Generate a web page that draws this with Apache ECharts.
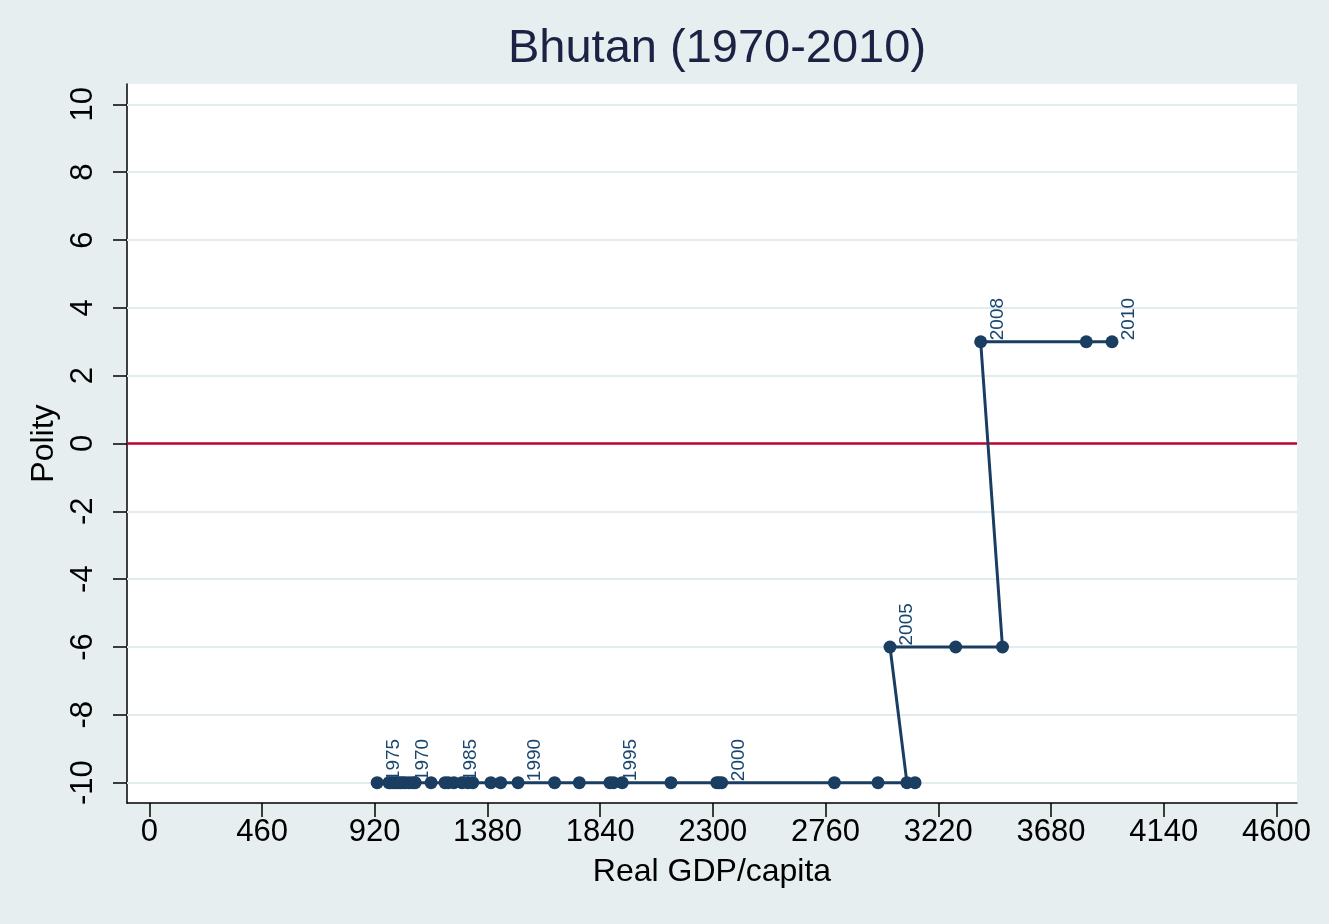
<!DOCTYPE html>
<html>
<head>
<meta charset="utf-8">
<script src="https://cdn.jsdelivr.net/npm/echarts@6/dist/echarts.min.js"></script>
<style>
  html, body { margin: 0; padding: 0; background: #e6eef0; }
  #chart { width: 1329px; height: 924px; }
</style>
</head>
<body>
<div id="chart"></div>
<script>
// year-ordered observations
var years = [1970, 1971, 1972, 1973, 1974, 1975, 1976, 1977, 1978, 1979,
  1980, 1981, 1982, 1983, 1984, 1985, 1986, 1987, 1988, 1989,
  1990, 1991, 1992, 1993, 1994, 1995, 1996, 1997, 1998, 1999,
  2000, 2001, 2002, 2003, 2004, 2005, 2006, 2007, 2008, 2009, 2010]
var gdp = [1045, 1015, 995, 978, 1005, 930, 985, 1025, 1035, 1060,
  1075, 1085, 1150, 1207, 1220, 1243, 1276, 1300, 1320, 1394,
  1505, 1434, 1654, 1755, 1880, 1894, 1930, 2129, 2316, 2325,
  2336, 2796, 2974, 3125, 3092, 3023, 3291, 3482, 3393, 3824, 3929]
var polity = [-10, -10, -10, -10, -10, -10, -10, -10, -10, -10,
  -10, -10, -10, -10, -10, -10, -10, -10, -10, -10,
  -10, -10, -10, -10, -10, -10, -10, -10, -10, -10,
  -10, -10, -10, -10, -10, -6, -6, -6, 3, 3, 3]
var labeledYears = [1970, 1975, 1985, 1990, 1995, 2000, 2005, 2008, 2010]
var xTicks = [0, 460, 920, 1380, 1840, 2300, 2760, 3220, 3680, 4140, 4600]
var yTicks = [-10, -8, -6, -4, -2, 0, 2, 4, 6, 8, 10]

var navy = '#1a3d62'
var font = 'Liberation Sans, Arial, sans-serif'

var points = years.map(function(y, i) {
  return [gdp[i], polity[i], y]
})

var gridLines = yTicks.filter(function(v) { return v !== 0 }).map(function(v) {
  return { yAxis: v, lineStyle: { color: '#e2ebee', width: 2, type: 'solid' } }
})
gridLines.push({ yAxis: 0, lineStyle: { color: '#c0002e', width: 2.5, type: 'solid' } })

var chart = echarts.init(document.getElementById('chart'))
chart.setOption({
  backgroundColor: '#e6eef0',
  animation: false,
  title: {
    text: 'Bhutan (1970-2010)',
    left: 712,
    top: 21,
    textAlign: 'center',
    textStyle: { color: '#1c2244', fontSize: 47, fontWeight: 'normal', fontFamily: font }
  },
  grid: {
    left: 127,
    right: 32,
    top: 84,
    bottom: 121,
    show: true,
    backgroundColor: '#ffffff',
    borderWidth: 0
  },
  xAxis: {
    type: 'value',
    min: -91,
    max: 4684,
    name: 'Real GDP/capita',
    nameLocation: 'middle',
    nameGap: 53,
    nameTextStyle: { color: '#000', fontSize: 32, fontFamily: font },
    axisLine: { show: true, onZero: false, lineStyle: { color: '#000', width: 1.5 } },
    axisTick: { show: true, length: 14, customValues: xTicks, lineStyle: { color: '#000', width: 1.5 } },
    axisLabel: {
      customValues: xTicks, margin: 14, color: '#000', fontSize: 31, fontFamily: font,
      formatter: function(v) { return String(v) }
    },
    splitLine: { show: false }
  },
  yAxis: {
    type: 'value',
    min: -10.6,
    max: 10.6,
    name: 'Polity',
    nameLocation: 'middle',
    nameRotate: 90,
    nameGap: 61,
    nameTextStyle: { color: '#000', fontSize: 32, fontFamily: font },
    axisLine: { show: true, onZero: false, lineStyle: { color: '#000', width: 1.5 } },
    axisTick: { show: true, length: 14, customValues: yTicks, lineStyle: { color: '#000', width: 1.5 } },
    axisLabel: {
      customValues: yTicks, rotate: 90, margin: 28, color: '#000', fontSize: 31, fontFamily: font,
      formatter: function(v) { return String(v) }
    },
    splitLine: { show: false }
  },
  series: [
    {
      type: 'line',
      data: points,
      symbol: 'circle',
      symbolSize: 13,
      color: navy,
      itemStyle: { color: navy },
      lineStyle: { color: navy, width: 3 },
      z: 3,
      label: {
        show: true,
        position: [14, 5],
        rotate: 90,
        align: 'left',
        verticalAlign: 'top',
        color: '#1a476f',
        fontSize: 19,
        fontFamily: font,
        formatter: function(p) {
          var yr = p.data[2]
          return labeledYears.indexOf(yr) >= 0 ? String(yr) : ''
        }
      },
      markLine: {
        silent: true,
        symbol: 'none',
        label: { show: false },
        z: 1,
        data: gridLines
      }
    }
  ]
})
</script>
</body>
</html>
